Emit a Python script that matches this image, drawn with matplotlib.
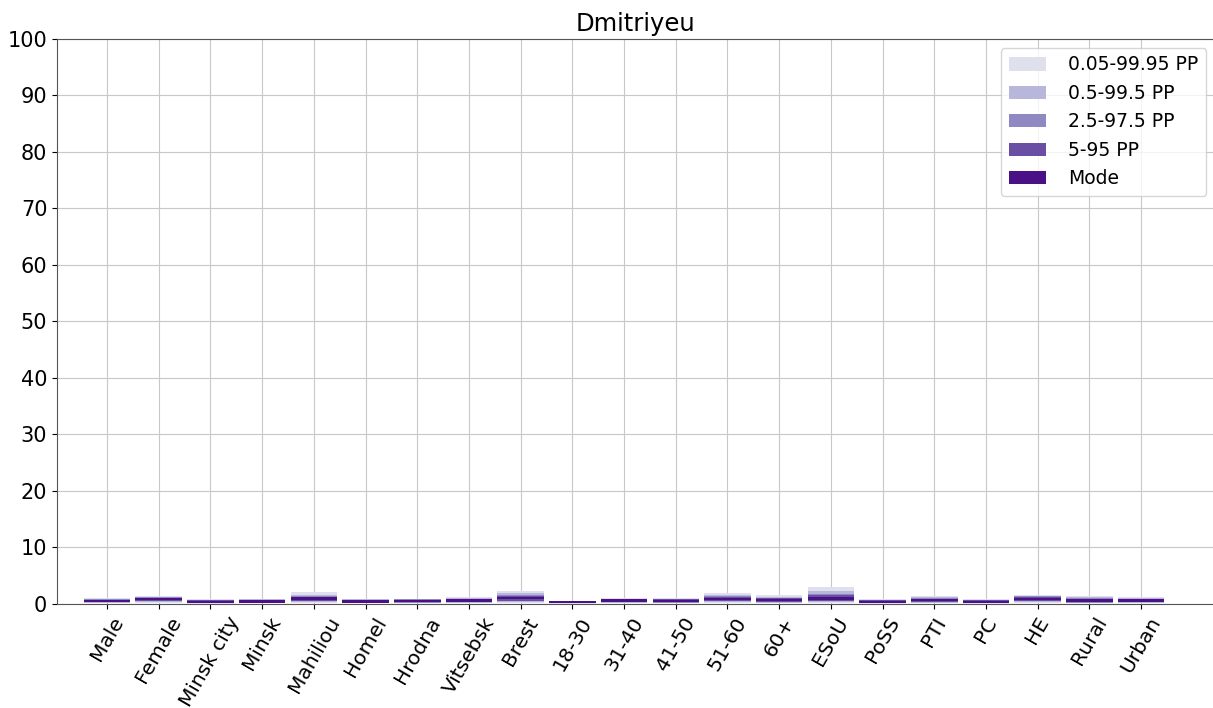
import matplotlib.pyplot as plt
import numpy as np

categories = ["Male", "Female", "Minsk city", "Minsk", "Mahiliou", "Homel", "Hrodna",
              "Vitsebsk", "Brest", "18-30", "31-40", "41-50", "51-60", "60+", "ESoU",
              "PoSS", "PTI", "PC", "HE", "Rural", "Urban"]

# interval bounds (low, high) for each percentile band
pp_0005_lo = [0.15, 0.20, 0.05, 0.10, 0.20, 0.10, 0.10, 0.10, 0.20, 0.05, 0.10, 0.10, 0.20, 0.15, 0.20, 0.05, 0.15, 0.05, 0.25, 0.10, 0.15]
pp_0005_hi = [1.00, 1.45, 0.80, 0.85, 2.05, 0.85, 0.95, 1.20, 2.35, 0.55, 1.00, 1.10, 1.95, 1.60, 2.95, 0.80, 1.40, 0.80, 1.60, 1.40, 1.20]
pp_05_lo = [0.20, 0.30, 0.10, 0.15, 0.30, 0.15, 0.15, 0.20, 0.35, 0.10, 0.20, 0.15, 0.30, 0.20, 0.30, 0.10, 0.20, 0.10, 0.35, 0.15, 0.20]
pp_05_hi = [0.90, 1.25, 0.75, 0.80, 1.65, 0.80, 0.90, 1.00, 1.95, 0.50, 0.95, 0.95, 1.60, 1.30, 2.30, 0.75, 1.20, 0.75, 1.45, 1.15, 1.05]
pp_25_lo = [0.30, 0.45, 0.15, 0.20, 0.45, 0.20, 0.25, 0.30, 0.50, 0.15, 0.30, 0.25, 0.45, 0.35, 0.45, 0.15, 0.30, 0.15, 0.50, 0.25, 0.30]
pp_25_hi = [0.80, 1.15, 0.70, 0.75, 1.45, 0.75, 0.80, 0.90, 1.65, 0.45, 0.90, 0.85, 1.35, 1.10, 1.80, 0.70, 1.05, 0.70, 1.35, 1.00, 0.95]
pp_5_lo = [0.35, 0.55, 0.20, 0.25, 0.55, 0.25, 0.30, 0.35, 0.60, 0.20, 0.35, 0.30, 0.55, 0.40, 0.55, 0.20, 0.35, 0.20, 0.60, 0.30, 0.35]
pp_5_hi = [0.75, 1.05, 0.65, 0.70, 1.30, 0.70, 0.75, 0.85, 1.45, 0.40, 0.85, 0.80, 1.20, 1.00, 1.50, 0.65, 0.95, 0.65, 1.25, 0.90, 0.90]
mode = [0.55, 0.85, 0.40, 0.45, 0.95, 0.45, 0.50, 0.60, 1.05, 0.30, 0.60, 0.55, 0.90, 0.70, 0.95, 0.40, 0.65, 0.40, 0.90, 0.60, 0.60]

x = np.arange(len(categories))
w = 0.9

fig, ax = plt.subplots(figsize=(12.13, 7.08), dpi=100)
fig.subplots_adjust(left=0.047, right=1.0, top=0.945, bottom=0.147)

bands = [
    (pp_0005_lo, pp_0005_hi, "#e0dfee", "0.05-99.95 PP"),
    (pp_05_lo, pp_05_hi, "#b8b6da", "0.5-99.5 PP"),
    (pp_25_lo, pp_25_hi, "#8e88c3", "2.5-97.5 PP"),
    (pp_5_lo, pp_5_hi, "#6a4ea3", "5-95 PP"),
]
for lo, hi, col, lab in bands:
    lo = np.array(lo)
    hi = np.array(hi)
    ax.bar(x, hi - lo, bottom=lo, width=w, color=col, label=lab, zorder=3)

m = np.array(mode)
ax.bar(x, 0.4, bottom=m - 0.2, width=w, color="#4a1186", label="Mode", zorder=4)

ax.set_xlim(-0.967, 21.39)
ax.set_ylim(0, 100)
ax.set_yticks(np.arange(0, 101, 10))
ax.set_xticks(x)
ax.set_xticklabels(categories, rotation=60, ha="center", fontsize=14.5)
ax.tick_params(axis="y", labelsize=15)
ax.grid(True, color="#c8c8c8", linewidth=0.8, zorder=0)
ax.set_axisbelow(True)
ax.spines["right"].set_visible(False)
for s in ["top", "left", "bottom"]:
    ax.spines[s].set_color("#555555")
ax.set_title("Dmitriyeu", fontsize=17.5)
ax.legend(loc="upper left", bbox_to_anchor=(1001 / 1213, 1 - 48 / 708),
          bbox_transform=fig.transFigure, borderaxespad=0,
          fontsize=13.5, handletextpad=1.2)

fig.savefig("out.png")
